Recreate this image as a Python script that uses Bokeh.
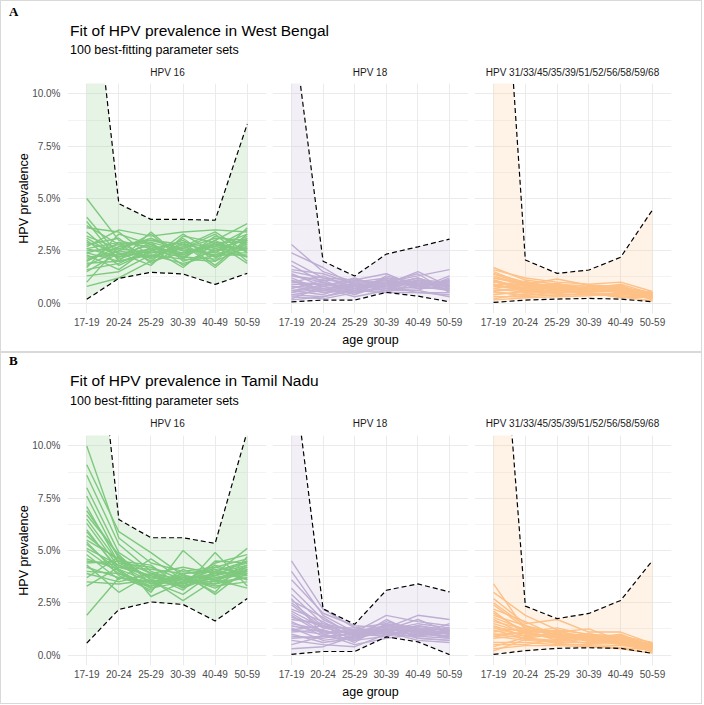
from bokeh.plotting import figure
from bokeh.layouts import column, row
from bokeh.models import Div, Range1d, FixedTicker, PrintfTickFormatter
from bokeh.embed import file_html
from bokeh.resources import INLINE

AGE_GROUPS = ["17-19", "20-24", "25-29", "30-39", "40-49", "50-59"]
FACET_LABELS = ["HPV 16", "HPV 18", "HPV 31/33/45/35/39/51/52/56/58/59/68"]
FACET_COLORS = ["#7FC97F", "#BEAED4", "#FDC086"]
Y_TICKS = [0, 2.5, 5, 7.5, 10]
Y_MINOR = [1.25, 3.75, 6.25, 8.75]

TITLE_A = "Fit of HPV prevalence in West Bengal"
TITLE_B = "Fit of HPV prevalence in Tamil Nadu"
SUBTITLE = "100 best-fitting parameter sets"

# ---------------- West Bengal (panel A), prevalence in % ----------------
WB_HPV16_LOWER = [0.18, 1.18, 1.47, 1.39, 0.89, 1.42]
WB_HPV16_UPPER = [18.4, 4.75, 4.0, 4.0, 3.96, 8.56]
WB_HPV16_RUNS = [
    [5.0, 3.0, 2.6, 2.4, 2.8, 2.6],
    [4.1, 2.3, 2.8, 2.2, 3.0, 3.8],
    [3.9, 2.0, 3.4, 2.1, 3.2, 2.8],
    [3.6, 3.4, 2.2, 3.3, 2.4, 3.2],
    [3.2, 2.6, 3.1, 2.5, 2.7, 3.5],
    [3.0, 1.8, 2.5, 3.0, 2.2, 2.9],
    [2.8, 3.1, 1.9, 2.7, 3.4, 2.4],
    [2.6, 2.2, 2.9, 1.8, 2.6, 3.0],
    [2.4, 2.8, 2.0, 3.1, 2.0, 3.3],
    [2.3, 1.6, 2.7, 2.3, 3.0, 2.2],
    [2.1, 2.5, 3.3, 2.0, 2.5, 2.7],
    [2.0, 2.9, 2.1, 2.9, 1.8, 3.1],
    [1.9, 2.0, 2.4, 2.6, 3.3, 2.0],
    [1.7, 3.3, 2.8, 2.2, 2.1, 3.6],
    [1.5, 2.4, 1.8, 3.2, 2.9, 2.5],
    [1.3, 1.5, 2.3, 1.9, 2.3, 2.3],
    [1.0, 2.7, 3.0, 2.8, 1.7, 3.0],
    [0.8, 1.2, 2.0, 2.4, 2.7, 2.6],
    [3.4, 2.1, 2.6, 1.7, 2.9, 1.9],
    [2.7, 3.5, 3.2, 3.4, 3.5, 3.4],
    [2.5, 2.6, 2.4, 2.6, 2.3, 2.8],
    [2.2, 2.3, 2.6, 2.3, 2.8, 2.5],
    [2.9, 2.4, 2.2, 2.8, 2.5, 3.1],
    [2.0, 2.7, 2.9, 2.5, 2.4, 2.4],
    [3.1, 2.2, 2.5, 2.2, 2.9, 2.9],
    [1.8, 2.5, 2.2, 2.7, 2.2, 2.6],
    [2.6, 2.9, 2.7, 2.4, 2.7, 3.3],
    [1.6, 1.9, 2.6, 2.9, 2.6, 2.2],
    [3.7, 2.8, 3.0, 2.6, 3.1, 3.0],
    [2.4, 2.0, 2.3, 2.1, 2.0, 2.7],
]

WB_HPV18_LOWER = [0.06, 0.14, 0.14, 0.51, 0.33, 0.06]
WB_HPV18_UPPER = [13.8, 2.0, 1.29, 2.34, 2.69, 3.06]
WB_HPV18_RUNS = [
    [2.8, 1.5, 1.0, 1.2, 1.0, 0.9],
    [2.4, 1.7, 0.8, 1.0, 1.3, 1.6],
    [2.0, 1.2, 1.1, 1.4, 0.8, 1.1],
    [1.8, 1.0, 0.6, 0.9, 1.5, 0.8],
    [1.6, 1.4, 0.9, 1.1, 0.7, 1.3],
    [1.4, 0.8, 1.2, 0.7, 1.1, 0.6],
    [1.3, 1.1, 0.5, 1.3, 0.9, 1.0],
    [1.2, 0.6, 0.8, 0.8, 1.2, 0.7],
    [1.0, 1.3, 0.7, 0.6, 0.6, 1.2],
    [0.9, 0.9, 1.0, 1.0, 1.4, 0.5],
    [0.8, 0.5, 0.6, 0.5, 1.0, 0.9],
    [0.7, 1.0, 0.4, 1.2, 0.7, 1.1],
    [0.6, 0.4, 0.9, 0.8, 0.5, 0.4],
    [0.5, 0.7, 0.3, 0.6, 1.1, 0.8],
    [0.4, 0.3, 0.7, 1.0, 0.8, 0.6],
    [0.3, 0.2, 0.5, 0.7, 0.6, 0.3],
    [0.2, 0.8, 0.4, 0.9, 0.9, 1.0],
    [0.15, 0.3, 0.6, 0.5, 0.5, 0.5],
    [1.1, 0.6, 1.1, 0.9, 1.2, 0.7],
    [0.5, 0.9, 0.8, 1.1, 0.8, 1.0],
    [1.0, 0.9, 0.7, 0.9, 0.9, 0.8],
    [0.8, 0.7, 0.8, 0.8, 1.0, 0.9],
    [1.3, 1.0, 0.6, 1.0, 0.8, 0.7],
    [0.6, 0.8, 0.9, 0.7, 1.1, 1.0],
    [1.5, 1.2, 0.8, 1.1, 0.9, 0.8],
    [0.4, 0.6, 0.5, 0.8, 0.7, 0.7],
    [1.1, 0.5, 0.7, 1.2, 1.0, 0.6],
    [0.7, 1.1, 1.0, 0.6, 0.8, 1.1],
]

WB_HR_LOWER = [0.03, 0.14, 0.19, 0.22, 0.19, 0.06]
WB_HR_UPPER = [24.6, 2.06, 1.42, 1.58, 2.19, 4.45]
WB_HR_RUNS = [
    [1.7, 1.1, 0.9, 0.8, 0.7, 0.5],
    [1.6, 1.2, 1.0, 0.9, 1.0, 0.55],
    [1.5, 0.9, 1.15, 0.85, 0.8, 0.4],
    [1.4, 1.0, 0.8, 0.7, 0.9, 0.45],
    [1.3, 0.8, 0.95, 0.6, 0.6, 0.35],
    [1.2, 0.95, 0.7, 0.75, 0.75, 0.5],
    [1.1, 0.7, 0.85, 0.65, 0.5, 0.3],
    [1.0, 0.85, 0.6, 0.8, 0.65, 0.4],
    [0.9, 0.6, 0.75, 0.55, 0.85, 0.25],
    [0.8, 0.75, 0.55, 0.7, 0.55, 0.45],
    [0.7, 0.5, 0.65, 0.5, 0.45, 0.3],
    [0.6, 0.65, 0.5, 0.6, 0.7, 0.2],
    [0.5, 0.4, 0.7, 0.45, 0.4, 0.35],
    [0.4, 0.55, 0.45, 0.55, 0.6, 0.15],
    [0.3, 0.3, 0.4, 0.4, 0.35, 0.25],
    [0.2, 0.45, 0.35, 0.5, 0.3, 0.1],
    [0.15, 0.25, 0.3, 0.35, 0.5, 0.2],
    [1.05, 0.6, 0.9, 0.7, 0.65, 0.5],
    [0.85, 1.05, 0.65, 0.65, 0.8, 0.35],
    [0.55, 0.35, 0.55, 0.5, 0.25, 0.3],
    [1.0, 0.8, 0.75, 0.7, 0.7, 0.4],
    [0.8, 0.7, 0.8, 0.6, 0.6, 0.45],
    [1.2, 0.9, 0.65, 0.75, 0.55, 0.35],
    [0.6, 0.75, 0.7, 0.65, 0.75, 0.4],
    [1.4, 0.85, 0.85, 0.55, 0.65, 0.3],
    [0.9, 0.55, 0.6, 0.7, 0.5, 0.45],
    [0.7, 0.95, 0.75, 0.6, 0.7, 0.5],
    [1.1, 0.65, 0.55, 0.8, 0.6, 0.3],
]

# ---------------- Tamil Nadu (panel B), prevalence in % ----------------
TN_HPV16_LOWER = [0.57, 2.18, 2.54, 2.42, 1.63, 2.70]
TN_HPV16_UPPER = [20.6, 6.48, 5.61, 5.61, 5.34, 10.7]
TN_HPV16_RUNS = [
    [10.0, 5.6, 4.4, 4.0, 4.2, 4.6],
    [9.1, 5.9, 4.9, 3.8, 3.6, 4.0],
    [8.6, 5.3, 4.0, 3.5, 4.4, 4.8],
    [8.0, 4.9, 3.9, 4.2, 3.9, 4.3],
    [7.6, 4.6, 3.6, 3.3, 3.7, 3.8],
    [7.1, 4.4, 4.2, 3.6, 3.4, 4.1],
    [6.7, 4.8, 3.4, 3.9, 4.1, 3.6],
    [6.3, 4.2, 3.8, 3.1, 4.5, 4.4],
    [6.0, 4.0, 3.3, 3.7, 3.2, 3.9],
    [5.7, 4.5, 3.7, 3.4, 3.8, 4.2],
    [5.4, 3.8, 3.1, 4.1, 3.5, 3.7],
    [5.1, 4.3, 3.5, 2.9, 4.0, 4.5],
    [4.8, 3.6, 4.6, 3.6, 3.3, 3.5],
    [4.6, 4.1, 3.0, 5.0, 3.7, 4.0],
    [4.3, 3.0, 3.9, 3.2, 4.9, 3.3],
    [4.0, 3.9, 3.2, 3.8, 3.0, 4.7],
    [3.7, 4.7, 2.8, 3.5, 4.3, 3.8],
    [3.5, 3.4, 3.6, 2.6, 3.6, 3.2],
    [3.3, 4.2, 4.1, 3.9, 2.9, 4.1],
    [1.9, 3.7, 3.5, 3.4, 3.9, 5.1],
    [6.5, 4.4, 3.7, 3.6, 3.9, 4.0],
    [5.9, 4.1, 3.5, 3.8, 3.6, 4.3],
    [5.5, 4.6, 3.9, 3.4, 4.2, 3.9],
    [5.0, 3.9, 3.4, 3.7, 3.8, 4.1],
    [4.5, 4.3, 3.8, 3.5, 3.4, 3.7],
    [4.2, 3.7, 3.3, 3.9, 4.0, 4.4],
    [6.9, 4.7, 3.6, 3.3, 3.7, 3.9],
    [3.9, 3.5, 3.9, 3.6, 3.5, 4.2],
    [5.3, 4.0, 3.2, 3.5, 4.1, 3.6],
    [4.4, 4.5, 4.3, 3.2, 3.8, 4.5],
]

TN_HPV18_LOWER = [0.03, 0.17, 0.17, 0.87, 0.63, 0.02]
TN_HPV18_UPPER = [14.3, 2.21, 1.47, 3.10, 3.40, 3.02]
TN_HPV18_RUNS = [
    [4.5, 2.2, 1.3, 1.5, 1.3, 1.2],
    [4.0, 1.9, 1.1, 1.9, 1.6, 1.4],
    [3.6, 2.0, 1.4, 1.3, 1.9, 1.7],
    [3.2, 1.7, 1.0, 1.6, 1.2, 1.0],
    [2.9, 1.5, 1.2, 1.2, 1.5, 1.3],
    [2.6, 1.8, 0.9, 1.4, 1.1, 0.9],
    [2.4, 1.3, 1.3, 1.1, 1.4, 1.1],
    [2.2, 1.6, 0.8, 1.7, 1.0, 1.5],
    [2.0, 1.1, 1.1, 1.0, 1.3, 0.8],
    [1.8, 1.4, 0.7, 1.3, 0.9, 1.2],
    [1.6, 0.9, 1.0, 0.9, 1.2, 1.0],
    [1.5, 1.2, 0.6, 1.5, 0.8, 0.7],
    [1.3, 0.7, 0.9, 1.2, 1.7, 1.1],
    [1.2, 1.0, 0.5, 0.8, 1.0, 0.9],
    [1.0, 0.6, 0.8, 1.1, 0.7, 0.6],
    [0.9, 0.8, 1.1, 1.4, 1.1, 1.3],
    [0.7, 0.5, 0.4, 1.0, 0.9, 0.8],
    [0.5, 0.9, 0.7, 0.9, 1.3, 1.0],
    [0.3, 0.4, 0.9, 1.2, 0.8, 0.7],
    [2.7, 1.0, 1.2, 1.1, 1.0, 1.1],
    [2.1, 1.3, 1.0, 1.2, 1.2, 1.1],
    [1.7, 1.5, 0.9, 1.3, 1.1, 1.0],
    [1.4, 1.1, 1.1, 1.1, 1.4, 1.2],
    [1.1, 1.2, 0.8, 1.4, 1.0, 0.9],
    [2.5, 1.4, 1.0, 1.0, 1.2, 1.3],
    [0.8, 0.9, 1.0, 1.2, 1.3, 1.0],
    [1.9, 1.0, 0.7, 1.5, 1.1, 0.8],
    [1.2, 1.4, 1.2, 1.0, 0.9, 1.2],
]

TN_HR_LOWER = [0.03, 0.21, 0.32, 0.35, 0.32, 0.08]
TN_HR_UPPER = [21.8, 2.34, 1.74, 1.99, 2.61, 4.52]
TN_HR_RUNS = [
    [3.4, 1.2, 1.0, 0.9, 0.8, 0.5],
    [3.0, 1.9, 1.2, 1.0, 0.9, 0.6],
    [2.7, 1.5, 1.7, 1.1, 1.1, 0.55],
    [2.4, 1.3, 1.1, 1.25, 0.7, 0.45],
    [2.2, 1.6, 0.9, 0.8, 1.0, 0.4],
    [2.0, 1.1, 1.3, 0.95, 0.85, 0.5],
    [1.9, 1.4, 0.8, 1.05, 0.6, 0.35],
    [1.7, 1.0, 1.2, 0.7, 0.95, 0.45],
    [1.6, 1.25, 0.95, 0.85, 0.75, 0.3],
    [1.4, 0.9, 1.05, 0.75, 0.65, 0.55],
    [1.3, 1.15, 0.7, 0.9, 0.9, 0.4],
    [1.2, 0.8, 1.0, 0.65, 0.55, 0.25],
    [1.0, 1.05, 0.85, 0.8, 0.8, 0.5],
    [0.9, 0.7, 0.6, 0.6, 0.7, 0.3],
    [0.8, 0.95, 0.9, 0.7, 0.5, 0.2],
    [0.6, 0.6, 0.5, 0.5, 0.45, 0.35],
    [0.5, 0.5, 0.75, 0.55, 0.6, 0.15],
    [0.4, 0.85, 0.55, 0.45, 0.35, 0.25],
    [0.3, 0.45, 0.45, 0.4, 0.3, 0.1],
    [0.2, 0.75, 0.65, 0.75, 0.55, 0.4],
    [1.8, 1.2, 1.0, 0.85, 0.75, 0.45],
    [1.5, 1.05, 0.9, 0.8, 0.8, 0.4],
    [1.1, 1.3, 1.1, 0.9, 0.7, 0.5],
    [2.1, 1.0, 0.8, 0.75, 0.85, 0.35],
    [1.3, 0.9, 0.95, 0.95, 0.65, 0.45],
    [0.9, 1.1, 0.85, 0.7, 0.75, 0.3],
    [2.5, 1.4, 1.05, 0.8, 0.7, 0.5],
    [1.0, 0.8, 0.7, 0.85, 0.6, 0.4],
]

# ---------------- styling / layout ----------------
SANS = "Liberation Sans"
GRID = "#ebebeb"
TICK_COL = "#4d4d4d"
FIG_H = 273
FRAME_TOP = 5
FRAME_BOTTOM = 38
FIG_WIDTHS = [268, 202, 230]
BORDER_L = [66, 3, 3]
BORDER_R = [3, 3, 30]
STRIP_CENTERS = [166.5, 369, 571.5]
CONTENT_W = sum(FIG_WIDTHS)


def make_facet(i, runs, lower, upper):
    color = FACET_COLORS[i]
    xs = list(range(len(AGE_GROUPS)))
    p = figure(width=FIG_WIDTHS[i], height=FIG_H, output_backend="svg",
               toolbar_location=None,
               x_range=Range1d(-0.6, len(AGE_GROUPS) - 0.4),
               y_range=Range1d(-0.5, 10.5),
               min_border_left=BORDER_L[i], min_border_right=BORDER_R[i],
               min_border_top=FRAME_TOP, min_border_bottom=FRAME_BOTTOM,
               outline_line_color=None, background_fill_color="white",
               border_fill_color="white")
    p.varea(x=xs, y1=lower, y2=upper, fill_color=color, fill_alpha=0.2)
    p.multi_line(xs=[xs] * len(runs), ys=runs, line_color=color, line_width=1.4)
    p.line(xs, lower, line_color="black", line_dash="5 3", line_width=1.2)
    p.line(xs, upper, line_color="black", line_dash="5 3", line_width=1.2)

    xt = FixedTicker(ticks=xs, minor_ticks=[])
    p.xaxis.ticker = xt
    p.xgrid.ticker = xt
    p.xaxis.major_label_overrides = {k: g for k, g in enumerate(AGE_GROUPS)}
    yt = FixedTicker(ticks=Y_TICKS, minor_ticks=Y_MINOR)
    p.yaxis.ticker = yt
    p.ygrid.ticker = yt
    p.yaxis.formatter = PrintfTickFormatter(format="%.1f%%")

    for ax in (p.xaxis, p.yaxis):
        ax.axis_line_color = None
        ax.major_tick_line_color = None
        ax.minor_tick_line_color = None
        ax.major_tick_out = 0
        ax.major_tick_in = 0
        ax.minor_tick_out = 0
        ax.minor_tick_in = 0
        ax.major_label_text_font = SANS
        ax.major_label_text_font_size = "10px"
        ax.major_label_text_color = TICK_COL
        ax.axis_label_text_font = SANS
        ax.axis_label_text_font_size = "12.5px"
        ax.axis_label_text_font_style = "normal"
        ax.axis_label_text_color = "black"
    p.xaxis.major_label_standoff = 4
    p.yaxis.major_label_standoff = 7

    p.xgrid.grid_line_color = GRID
    p.ygrid.grid_line_color = GRID
    p.xgrid.grid_line_width = 1
    p.ygrid.grid_line_width = 1
    p.ygrid.minor_grid_line_color = GRID
    p.ygrid.minor_grid_line_width = 0.6

    if i == 0:
        p.yaxis.axis_label = "HPV prevalence"
        p.yaxis.axis_label_standoff = -2
    else:
        p.yaxis.visible = False
    if i == 1:
        p.xaxis.axis_label = "age group"
        p.xaxis.axis_label_standoff = 4
    return p


def header(letter, title, height, centers):
    lc, tc, sc, fc = centers
    parts = [f'<div style="position:relative;width:{CONTENT_W}px;height:{height}px;">']
    parts.append(f'<span style="position:absolute;left:8px;top:{lc - 7}px;'
                 f'font-family:\'Liberation Serif\';font-weight:bold;font-size:13px;'
                 f'line-height:14px;color:#000;">{letter}</span>')
    parts.append(f'<span style="position:absolute;left:69px;top:{tc - 9}px;'
                 f'font-family:\'{SANS}\';font-size:15.5px;line-height:18px;'
                 f'color:#000;white-space:nowrap;">{title}</span>')
    parts.append(f'<span style="position:absolute;left:69px;top:{sc - 7}px;'
                 f'font-family:\'{SANS}\';font-size:12.5px;line-height:14px;'
                 f'color:#000;white-space:nowrap;">{SUBTITLE}</span>')
    for cx, lab in zip(STRIP_CENTERS, FACET_LABELS):
        parts.append(f'<span style="position:absolute;left:{cx - 120}px;width:240px;'
                     f'text-align:center;top:{fc - 6}px;font-family:\'{SANS}\';'
                     f'font-size:10px;line-height:12px;color:#1a1a1a;'
                     f'white-space:nowrap;">{lab}</span>')
    parts.append('</div>')
    return Div(text="".join(parts), width=CONTENT_W, height=height,
               styles={"margin": "0", "padding": "0"})


def panel(letter, title, hdr_h, centers, facets):
    figs = [make_facet(i, *f) for i, f in enumerate(facets)]
    return column(header(letter, title, hdr_h, centers), row(*figs, spacing=0),
                  spacing=0,
                  styles={"border": "1px solid #d9d9d9", "background": "white"})


panel_a = panel("A", TITLE_A, 77, (11, 30, 49, 72), [
    (WB_HPV16_RUNS, WB_HPV16_LOWER, WB_HPV16_UPPER),
    (WB_HPV18_RUNS, WB_HPV18_LOWER, WB_HPV18_UPPER),
    (WB_HR_RUNS, WB_HR_LOWER, WB_HR_UPPER),
])
panel_b = panel("B", TITLE_B, 77, (8, 28, 48, 71), [
    (TN_HPV16_RUNS, TN_HPV16_LOWER, TN_HPV16_UPPER),
    (TN_HPV18_RUNS, TN_HPV18_LOWER, TN_HPV18_UPPER),
    (TN_HR_RUNS, TN_HR_LOWER, TN_HR_UPPER),
])

root = column(panel_a, panel_b, spacing=0)
open("out.html", "w").write(file_html(root, INLINE))
